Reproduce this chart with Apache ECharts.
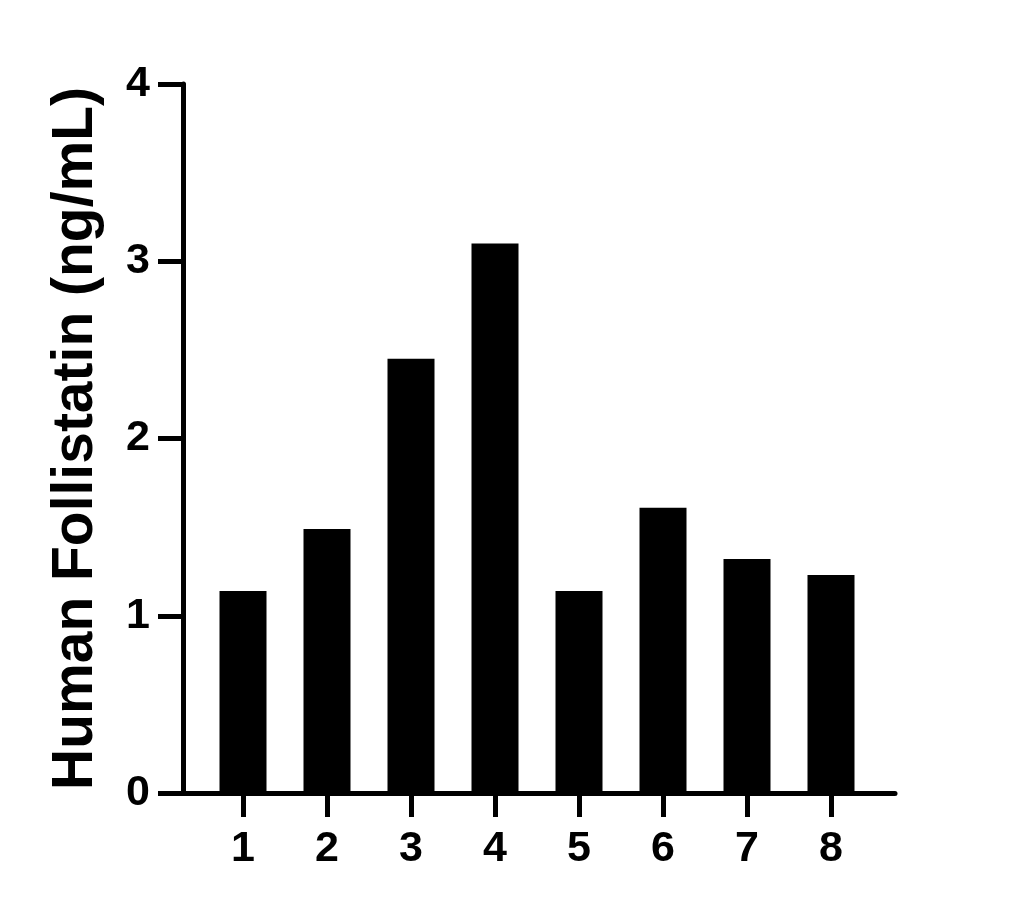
<!DOCTYPE html>
<html>
<head>
<meta charset="utf-8">
<script src="https://cdn.jsdelivr.net/npm/echarts@6/dist/echarts.min.js"></script>
<style>
html,body{margin:0;padding:0;background:#fff;}
#chart{width:1030px;height:909px;}
</style>
</head>
<body>
<div id="chart"></div>
<script>
const categories = ['1','2','3','4','5','6','7','8'];
const values = [1.14, 1.49, 2.45, 3.10, 1.14, 1.61, 1.32, 1.23];
const yTicks = [0, 1, 2, 3, 4];
const yTitle = 'Human Follistatin (ng/mL)';

const FONT = '"Liberation Sans", Arial, Helvetica, sans-serif';
const chart = echarts.init(document.getElementById('chart'), null, {renderer: 'canvas'});
chart.setOption({
  animation: false,
  backgroundColor: '#ffffff',
  grid: [
    {left: 183, right: 135, top: 84, bottom: 116},
    {left: 201, right: 157, top: 84, bottom: 116}
  ],
  xAxis: [
    {
      gridIndex: 0, type: 'value', min: 0, max: 1,
      axisLine: {show: true, lineStyle: {color: '#000', width: 5}},
      axisTick: {show: false}, axisLabel: {show: false}, splitLine: {show: false}
    },
    {
      gridIndex: 1, type: 'category', data: categories,
      axisLine: {show: false},
      axisTick: {show: true, alignWithLabel: true, length: 24, lineStyle: {color: '#000', width: 5}},
      axisLabel: {color: '#000', fontSize: 43, fontWeight: 'bold', fontFamily: FONT, margin: 35},
      splitLine: {show: false}
    }
  ],
  yAxis: [
    {
      gridIndex: 0, type: 'value', min: yTicks[0], max: yTicks[yTicks.length - 1], interval: 1,
      axisLine: {show: true, lineStyle: {color: '#000', width: 5}},
      axisTick: {show: true, length: 25, lineStyle: {color: '#000', width: 5}},
      axisLabel: {color: '#000', fontSize: 43, fontWeight: 'bold', fontFamily: FONT, margin: 33},
      splitLine: {show: false},
      name: yTitle, nameLocation: 'middle', nameGap: 78,
      nameTextStyle: {color: '#000', fontSize: 57, fontWeight: 'bold', fontFamily: FONT}
    },
    {
      gridIndex: 1, type: 'value', min: 0, max: 4, show: false
    }
  ],
  series: [{
    type: 'bar', xAxisIndex: 1, yAxisIndex: 1,
    data: values, barWidth: 47,
    itemStyle: {color: '#000'}
  }]
});
</script>
</body>
</html>
